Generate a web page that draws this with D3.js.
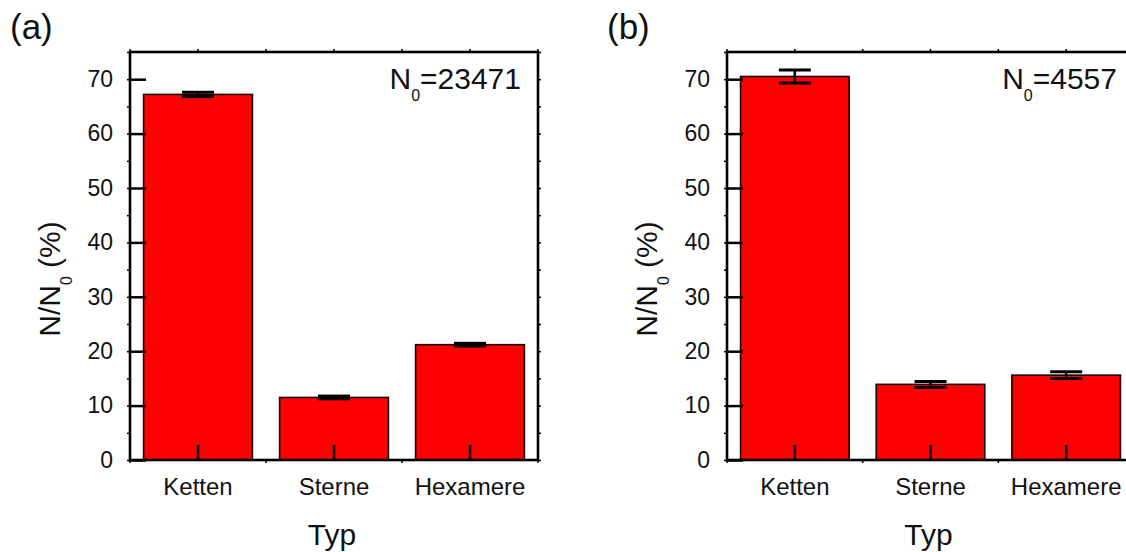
<!DOCTYPE html>
<html>
<head>
<meta charset="utf-8">
<script src="https://cdn.jsdelivr.net/npm/d3@7"></script>
<style>
  html, body { margin: 0; padding: 0; background: #fff; }
  svg { display: block; }
  text { font-family: "Liberation Sans", Arial, sans-serif; fill: #111; }
</style>
</head>
<body>
<svg id="chart" width="1126" height="552"></svg>
<script>
// Share of each aggregate type, two samples
const categories = ["Ketten", "Sterne", "Hexamere"];
const valuesA = [67.2, 11.5, 21.2];
const errorsA = [0.4, 0.25, 0.25];
const valuesB = [70.5, 13.9, 15.6];
const errorsB = [1.2, 0.55, 0.6];
const yTicks = [0, 10, 20, 30, 40, 50, 60, 70];
const yMinorTicks = [0, 5, 10, 15, 20, 25, 30, 35, 40, 45, 50, 55, 60, 65, 70, 75];
const panelTags = ["(a)", "(b)"];
const totals = ["23471", "4557"];
const xTitle = "Typ";

const svg = d3.select("#chart");
const plotTop = 52, plotBottom = 460;

const panels = [
  { left: 130, right: 538, values: valuesA, errors: errorsA, tag: panelTags[0], total: totals[0] },
  { left: 727, right: 1134, values: valuesB, errors: errorsB, tag: panelTags[1], total: totals[1] }
];

panels.forEach(p => {
  const g = svg.append("g");
  const y = d3.scaleLinear().domain([0, 75]).range([plotBottom, plotTop]);
  const x = d3.scaleBand().domain(categories).range([p.left, p.right])
    .paddingInner(0.2).paddingOuter(0.1);
  const step = x.step();
  const centers = categories.map(c => x(c) + x.bandwidth() / 2);
  const bounds = d3.range(0, categories.length + 1).map(i => p.left + i * step);
  const halfPositions = d3.range(0, 2 * categories.length + 1).map(i => p.left + i * step / 2);

  // bars
  g.selectAll("rect.bar").data(categories).join("rect")
    .attr("class", "bar")
    .attr("x", c => x(c))
    .attr("width", x.bandwidth())
    .attr("y", (c, i) => y(p.values[i]))
    .attr("height", (c, i) => plotBottom - y(p.values[i]))
    .attr("fill", "#ff0000")
    .attr("stroke", "#1a0000")
    .attr("stroke-width", 1.6);

  // error bars
  const capW = 16;
  categories.forEach((c, i) => {
    const cx = centers[i];
    const hi = y(p.values[i] + p.errors[i]);
    const lo = y(p.values[i] - p.errors[i]);
    g.append("line").attr("x1", cx).attr("x2", cx).attr("y1", hi).attr("y2", lo)
      .attr("stroke", "#000").attr("stroke-width", 2.5);
    [hi, lo].forEach(v => g.append("line")
      .attr("x1", cx - capW).attr("x2", cx + capW).attr("y1", v).attr("y2", v)
      .attr("stroke", "#000").attr("stroke-width", 3));
  });

  // left axis: inward major ticks with labels
  const leftAxis = g.append("g").attr("transform", `translate(${p.left},0)`)
    .call(d3.axisLeft(y).tickValues(yTicks).tickSizeInner(-16).tickSizeOuter(0).tickPadding(17));
  leftAxis.select(".domain").remove();
  leftAxis.selectAll(".tick line").attr("stroke", "#000").attr("stroke-width", 2.5);
  leftAxis.selectAll(".tick text").attr("font-size", 23).attr("fill", "#111");

  // left and right axes: small outward ticks
  const leftMinor = g.append("g").attr("transform", `translate(${p.left},0)`)
    .call(d3.axisLeft(y).tickValues(yMinorTicks).tickSize(3).tickFormat(""));
  leftMinor.select(".domain").remove();
  leftMinor.selectAll(".tick line").attr("stroke", "#000").attr("stroke-width", 1.5);
  const rightMinor = g.append("g").attr("transform", `translate(${p.right},0)`)
    .call(d3.axisRight(y).tickValues(yMinorTicks).tickSize(3).tickFormat(""));
  rightMinor.select(".domain").remove();
  rightMinor.selectAll(".tick line").attr("stroke", "#000").attr("stroke-width", 1.5);

  // bottom axis: inward category ticks with labels
  const bottomAxis = g.append("g").attr("transform", `translate(0,${plotBottom})`)
    .call(d3.axisBottom(x).tickSizeInner(-15).tickSizeOuter(0).tickPadding(18));
  bottomAxis.select(".domain").remove();
  bottomAxis.selectAll(".tick line").attr("stroke", "#000").attr("stroke-width", 2.5);
  bottomAxis.selectAll(".tick text").attr("font-size", 24).attr("fill", "#111");

  // small outward ticks on bottom (boundaries) and top (centres and boundaries)
  g.selectAll("line.bminor").data(bounds).join("line")
    .attr("class", "bminor")
    .attr("x1", d => d).attr("x2", d => d).attr("y1", plotBottom).attr("y2", plotBottom + 3)
    .attr("stroke", "#000").attr("stroke-width", 1.5);
  g.selectAll("line.tminor").data(halfPositions).join("line")
    .attr("class", "tminor")
    .attr("x1", d => d).attr("x2", d => d).attr("y1", plotTop).attr("y2", plotTop - 3)
    .attr("stroke", "#000").attr("stroke-width", 1.5);

  // frame
  g.append("rect")
    .attr("x", p.left).attr("y", plotTop)
    .attr("width", p.right - p.left).attr("height", plotBottom - plotTop)
    .attr("fill", "none").attr("stroke", "#000").attr("stroke-width", 2.6);

  // sample size annotation
  const n0 = g.append("text")
    .attr("x", p.right - 17).attr("y", 89)
    .attr("text-anchor", "end").attr("font-size", 30);
  n0.append("tspan").text("N");
  n0.append("tspan").attr("font-size", 16).attr("dy", 12).text("0");
  n0.append("tspan").attr("dy", -12).text("=" + p.total);

  // y-axis title
  const yt = g.append("text")
    .attr("transform", `translate(${p.left - 70},279) rotate(-90)`)
    .attr("text-anchor", "middle").attr("font-size", 30);
  yt.append("tspan").text("N/N");
  yt.append("tspan").attr("font-size", 16).attr("dy", 12).text("0");
  yt.append("tspan").attr("dy", -12).text(" (%)");

  // x-axis title
  g.append("text")
    .attr("x", (p.left + p.right) / 2 - 2).attr("y", 545)
    .attr("text-anchor", "middle").attr("font-size", 30)
    .text(xTitle);

  // panel tag
  g.append("text")
    .attr("x", p.left - 120).attr("y", 39)
    .attr("font-size", 35)
    .text(p.tag);
});
</script>
</body>
</html>
